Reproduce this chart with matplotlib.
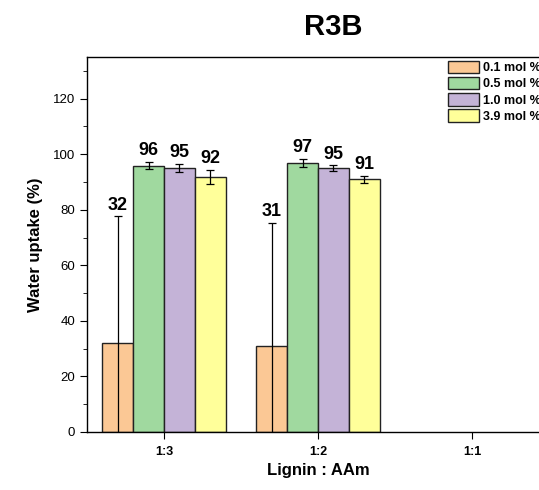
import matplotlib
matplotlib.use("Agg")
import matplotlib.pyplot as plt
import numpy as np
from matplotlib.ticker import MultipleLocator

plt.rcParams["font.family"] = ["Liberation Sans", "DejaVu Sans"]

ratios = ["1:3", "1:2", "1:1"]
series = ["0.1 mol %", "0.5 mol %", "1.0 mol %", "3.9 mol %"]
colors = ["#FBC895", "#A0D99F", "#C4B3D7", "#FFFF9A"]
# uptake values per series, for 1:3 and 1:2 (1:1 has no data)
uptake = [
    [31.9, 30.9],
    [95.8, 96.9],
    [95.0, 94.9],
    [91.7, 90.9],
]
errors = [
    [45.7, 44.3],
    [1.3, 1.4],
    [1.4, 1.1],
    [2.6, 1.3],
]
labels = [
    ["32", "31"],
    ["96", "97"],
    ["95", "95"],
    ["92", "91"],
]

fig = plt.figure(figsize=(5.39, 4.9), dpi=100)
ax = fig.add_axes([0.1614, 0.1184, 0.857, 0.7653])

width = 0.2
x = np.arange(1, 3)
for i, (vals, errs, labs) in enumerate(zip(uptake, errors, labels)):
    pos = x + (i - 1.5) * width
    ax.bar(pos, vals, width, color=colors[i], edgecolor="#222222",
           linewidth=1.0, label=series[i], zorder=2)
    ax.errorbar(pos, vals, yerr=errs, fmt="none", ecolor="black",
                elinewidth=0.9, capsize=3, capthick=0.9, zorder=3)
    for p, v, e, t in zip(pos, vals, errs, labs):
        ax.text(p, v + e + 1.0, t, ha="center", va="bottom",
                fontsize=13, fontweight="bold")

ax.set_xlim(0.5, 3.5)
ax.set_ylim(0, 135)
ax.set_xticks([1, 2, 3])
ax.set_xticklabels(ratios, fontsize=9, fontweight="bold")
ax.yaxis.set_major_locator(MultipleLocator(20))
ax.yaxis.set_minor_locator(MultipleLocator(10))
ax.tick_params(axis="y", which="major", direction="out", length=5, labelsize=9.5)
ax.tick_params(axis="y", which="minor", direction="out", length=3)
ax.tick_params(axis="x", direction="out", length=5, pad=5)
for s in ax.spines.values():
    s.set_linewidth(1.0)

ax.set_ylabel("Water uptake (%)", fontsize=12, fontweight="bold", labelpad=7)
ax.set_xlabel("Lignin : AAm", fontsize=12, fontweight="bold", labelpad=4)
fig.text(333 / 539, 1 - 27 / 490, "R3B", ha="center", va="center",
         fontsize=21, fontweight="bold")

# legend sits at the right edge and is partly cut off, as in the source figure
ax.legend(loc="upper left", bbox_to_anchor=(0.781, 0.99), frameon=False,
          prop={"weight": "bold", "size": 9}, handlelength=2.5,
          handleheight=1.15, handletextpad=0.35, labelspacing=0.22,
          borderpad=0, borderaxespad=0)

fig.savefig("out.png", dpi=100)
